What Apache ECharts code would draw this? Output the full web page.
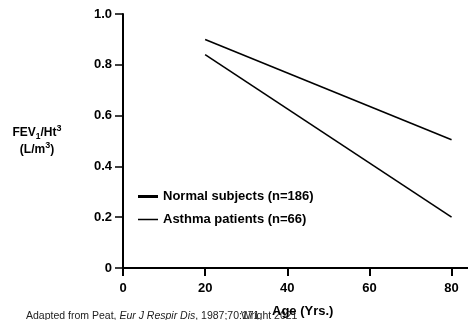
<!DOCTYPE html>
<html>
<head>
<meta charset="utf-8">
<script src="https://cdn.jsdelivr.net/npm/echarts@6/dist/echarts.min.js"></script>
<style>
html, body { margin: 0; padding: 0; background: #fff; }
#main { width: 468px; height: 320px; }
</style>
</head>
<body>
<div id="main"></div>
<script>
var ages = [20, 80];
var normalFev = [0.90, 0.505];
var asthmaFev = [0.84, 0.20];
var xTicks = [0, 20, 40, 60, 80];
var seriesNames = ['Normal subjects (n=186)', 'Asthma patients (n=66)'];

var font = 'Liberation Sans, Arial, sans-serif';

function pairs(xs, ys) {
    return xs.map(function (x, i) { return [x, ys[i]]; });
}

var chart1 = echarts.init(document.getElementById('main'));
var option = {
    backgroundColor: '#fff',
    animation: false,
    textStyle: { fontFamily: font },
    grid: { left: 123, right: 0, top: 14, bottom: 52 },
    legend: {
        orient: 'vertical',
        left: 133,
        top: 185,
        itemGap: 10,
        itemWidth: 20,
        itemHeight: 11,
        itemStyle: { borderWidth: 0 },
        data: [
            { name: seriesNames[0], icon: 'path://M0,0L1,0M0,4H20V7H0ZM0,11L1,11' },
            { name: seriesNames[1], icon: 'path://M0,0L1,0M0,4.8H20V6.3H0ZM0,11L1,11' }
        ],
        textStyle: { fontWeight: 'bold', fontSize: 13, color: '#000', fontFamily: font }
    },
    xAxis: [{
        type: 'value',
        min: 0,
        max: 84,
        interval: 20,
        splitLine: { show: false },
        axisLine: { onZero: false, lineStyle: { color: '#000', width: 2 } },
        axisTick: { customValues: xTicks, length: 8, lineStyle: { color: '#000', width: 2 } },
        axisLabel: { customValues: xTicks, margin: 14, fontWeight: 'bold', fontSize: 13, color: '#000', fontFamily: font }
    }, {
        type: 'value',
        position: 'top',
        min: 0,
        max: 84,
        splitLine: { show: false },
        axisLine: { lineStyle: { color: '#000', width: 2 } },
        axisTick: { show: false },
        axisLabel: { show: false }
    }],
    yAxis: {
        type: 'value',
        min: 0,
        max: 1,
        interval: 0.2,
        splitLine: { show: false },
        axisLine: { show: true, lineStyle: { color: '#000', width: 2 } },
        axisTick: { show: true, length: 8, lineStyle: { color: '#000', width: 1.5 } },
        axisLabel: {
            margin: 11, fontWeight: 'bold', fontSize: 13, color: '#000', fontFamily: font,
            formatter: function (v) { return v === 0 ? '0' : v.toFixed(1); }
        }
    },
    graphic: [{
        type: 'text',
        x: 37,
        y: 124,
        style: {
            text: '{m|FEV}{sub|1}{m|/Ht}{sup|3}\n{m|(L/m}{sup|3}{m|)}',
            align: 'center',
            fill: '#000',
            fontFamily: font,
            rich: {
                m: { fontSize: 12, fontWeight: 'bold', fontFamily: font, lineHeight: 15 },
                sub: { fontSize: 8.5, fontWeight: 'bold', fontFamily: font, verticalAlign: 'bottom', lineHeight: 13 },
                sup: { fontSize: 9, fontWeight: 'bold', fontFamily: font, verticalAlign: 'top', lineHeight: 17 }
            }
        }
    }, {
        type: 'text',
        left: 26,
        top: 311,
        style: {
            text: '{n|Adapted from Peat, }{i|Eur J Respir Dis}{n|, 1987;70:171}',
            fill: '#222',
            rich: {
                n: { fontSize: 10.5, fontFamily: font },
                i: { fontSize: 10.5, fontFamily: font, fontStyle: 'italic' }
            }
        }
    }, {
        type: 'text',
        left: 241,
        top: 311,
        style: { text: 'Wright 2021', fontSize: 10.5, fontFamily: font, fill: '#222' }
    }, {
        type: 'text',
        left: 272,
        top: 305,
        style: { text: 'Age (Yrs.)', fontSize: 13, fontWeight: 'bold', fontFamily: font, fill: '#000' }
    }],
    series: [{
        name: seriesNames[0],
        type: 'line',
        symbol: 'none',
        color: '#000',
        lineStyle: { color: '#000', width: 1.6 },
        data: pairs(ages, normalFev)
    }, {
        name: seriesNames[1],
        type: 'line',
        symbol: 'none',
        color: '#000',
        lineStyle: { color: '#000', width: 1.6 },
        data: pairs(ages, asthmaFev)
    }]
};
chart1.setOption(option);
</script>
</body>
</html>
